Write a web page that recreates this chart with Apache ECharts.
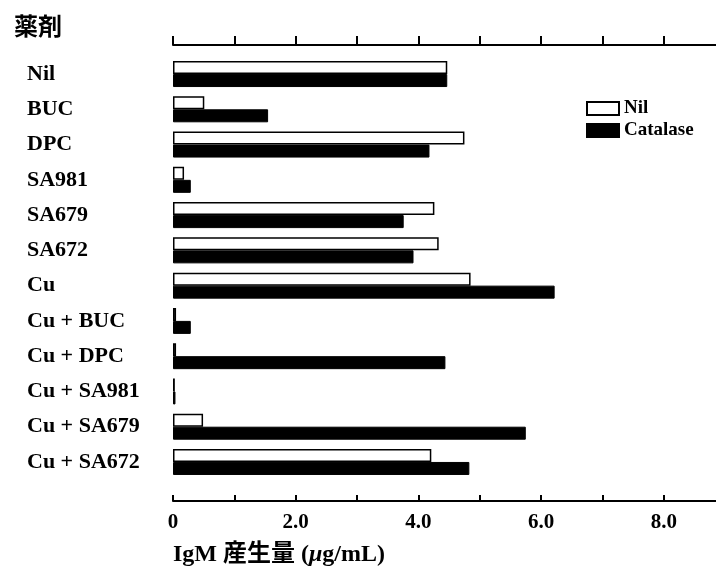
<!DOCTYPE html>
<html>
<head>
<meta charset="utf-8">
<script src="https://cdn.jsdelivr.net/npm/echarts@6/dist/echarts.min.js"></script>
<style>html,body{margin:0;padding:0;background:#fff}#c{width:716px;height:569px}</style>
</head>
<body>
<div id="c"></div>
<script>
const categories = ['Nil','BUC','DPC','SA981','SA679','SA672','Cu','Cu + BUC','Cu + DPC','Cu + SA981','Cu + SA679','Cu + SA672'];
const seriesNames = ['Nil','Catalase'];
const nilValues = [4.47,0.51,4.75,0.18,4.26,4.33,4.85,0.05,0.05,0.03,0.49,4.21];
const catalaseValues = [4.47,1.55,4.18,0.29,3.76,3.92,6.22,0.29,4.44,0.04,5.75,4.83];
const tickValues = [0,1,2,3,4,5,6,7,8];
const labelValues = [0,2,4,6,8];
const labelText = {0:'0',2:'2.0',4:'4.0',6:'6.0',8:'8.0'};

const serif = '"Liberation Serif","DejaVu Serif",serif';
const chart = echarts.init(document.getElementById('c'), null, {renderer:'canvas'});
chart.setOption({
  animation: false,
  backgroundColor: '#fff',
  title: [
    {text: '薬剤', left: 9, top: 9, textStyle: {fontFamily: '"Noto Sans CJK JP"', fontSize: 24, fontWeight: 'bold', color: '#000'}},
    {text: '{a|IgM 産生量 (}{i|μ}{a|g/mL)}', left: 168, top: 538,
     textStyle: {rich: {
       a: {fontFamily: serif + ',"Noto Sans CJK JP"', fontSize: 24, fontWeight: 'bold', color: '#000'},
       i: {fontFamily: serif, fontSize: 24, fontWeight: 'bold', fontStyle: 'italic', color: '#000'}
     }}}
  ],
  legend: {
    data: seriesNames, orient: 'vertical', left: 581, top: 94,
    icon: 'rect', itemWidth: 32, itemHeight: 13, itemGap: 3,
    textStyle: {fontFamily: serif, fontSize: 19, fontWeight: 'bold', color: '#000'}
  },
  grid: {left: 173, right: 0, top: 56.4, bottom: 89.4, containLabel: false},
  xAxis: [
    {type: 'value', position: 'bottom', min: 0, max: 8.85, interval: 1, offset: 21.5,
     axisLine: {show: true, lineStyle: {color: '#000', width: 2}},
     axisTick: {show: true, inside: true, length: 6, lineStyle: {color: '#000', width: 2}, customValues: tickValues},
     axisLabel: {show: true, margin: 11, fontFamily: serif, fontSize: 21, fontWeight: 'bold', color: '#000',
       customValues: labelValues, formatter: v => labelText[v] !== undefined ? labelText[v] : ''},
     splitLine: {show: false}},
    {type: 'value', position: 'top', min: 0, max: 8.85, interval: 1, offset: 11.4,
     axisLine: {show: true, lineStyle: {color: '#000', width: 2}},
     axisTick: {show: true, inside: false, length: 9, lineStyle: {color: '#000', width: 2}, customValues: tickValues},
     axisLabel: {show: false},
     splitLine: {show: false}}
  ],
  yAxis: {
    type: 'category', data: categories, inverse: true,
    axisLine: {show: false}, axisTick: {show: false}, splitLine: {show: false},
    axisLabel: {align: 'left', margin: 146, fontFamily: serif, fontSize: 22, fontWeight: 'bold', color: '#000'}
  },
  series: [
    {name: 'Nil', type: 'bar', xAxisIndex: 0, data: nilValues, barWidth: 13, barGap: '0%',
     itemStyle: {color: '#fff', borderColor: '#000', borderWidth: 1.5}},
    {name: 'Catalase', type: 'bar', xAxisIndex: 0, data: catalaseValues, barWidth: 13, barGap: '0%',
     itemStyle: {color: '#000', borderColor: '#000', borderWidth: 1}}
  ]
});
</script>
</body>
</html>
